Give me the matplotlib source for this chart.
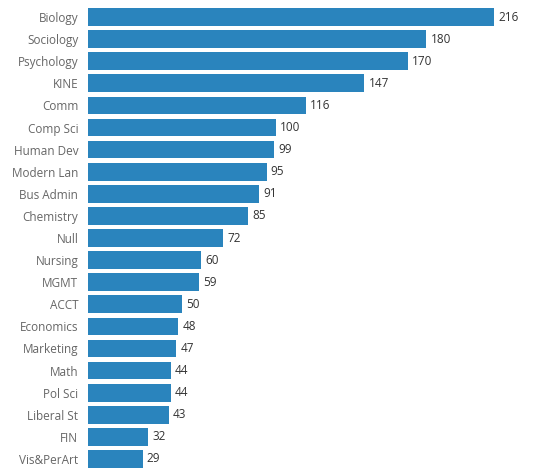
import matplotlib
matplotlib.use("Agg")
import matplotlib.pyplot as plt

categories = ["Biology", "Sociology", "Psychology", "KINE", "Comm", "Comp Sci",
              "Human Dev", "Modern Lan", "Bus Admin", "Chemistry", "Null", "Nursing",
              "MGMT", "ACCT", "Economics", "Marketing", "Math", "Pol Sci",
              "Liberal St", "FIN", "Vis&PerArt"]
values = [216, 180, 170, 147, 116, 100, 99, 95, 91, 85, 72, 60, 59, 50, 48, 47,
          44, 44, 43, 32, 29]

W, H = 544, 471
fig = plt.figure(figsize=(W / 100, H / 100), dpi=100)
ax = fig.add_axes([88 / W, 1 / H, (W - 88) / W, 464 / H])

bar_color = "#2a84bd"
ypos = list(range(len(categories)))
ax.barh(ypos, values, height=0.8, color=bar_color)
ax.set_ylim(len(categories) - 0.5, -0.5)
ax.set_xlim(0, 216 * (W - 88) / 406)

for y, v in zip(ypos, values):
    ax.text(v + 2.2, y, str(v), va="center", ha="left", fontsize=8.5,
            color="#333333", family="Open Sans")

ax.set_yticks(ypos)
ax.set_yticklabels(categories, fontsize=8.5, color="#666666", family="Open Sans")
ax.tick_params(axis="y", length=0, pad=7)
ax.set_xticks([])
for s in ax.spines.values():
    s.set_visible(False)

fig.savefig("out.png", dpi=100)
